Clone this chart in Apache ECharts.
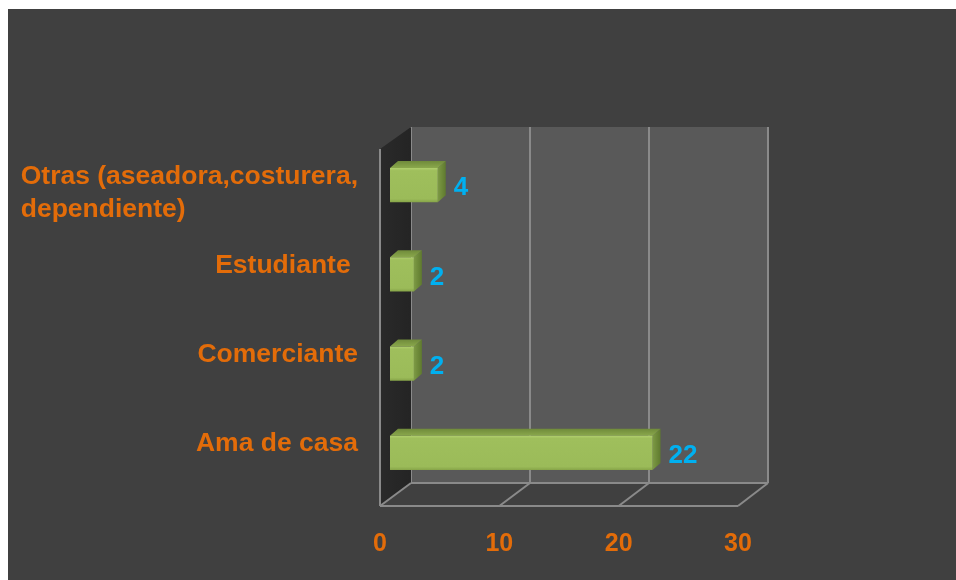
<!DOCTYPE html>
<html>
<head>
<meta charset="utf-8">
<script src="https://cdn.jsdelivr.net/npm/echarts@6/dist/echarts.min.js"></script>
<style>
  html, body { margin: 0; padding: 0; background: #ffffff; }
  #main { position: absolute; left: 8px; top: 9px; width: 948px; height: 571px; }
</style>
</head>
<body>
<div id="main"></div>
<script>
// datos (de abajo hacia arriba)
const categories = ['Ama de casa', 'Comerciante', 'Estudiante ', 'Otras (aseadora,costurera,\ndependiente)'];
const counts = [22, 2, 2, 4];
const axisMax = 30;
const axisStep = 10;

// plano frontal y pared del fondo (coordenadas del div)
const front = { left: 372, top: 140, width: 358, height: 357 };
const back = { left: 403, top: 118, width: 357, height: 356 };
const edge = '#8a8a8a';
const orange = '#e36c09';
const blue = '#00b0f0';

const chart = echarts.init(document.getElementById('main'));

const barData = counts.map((v, i) => [v, i]);

function renderBar(params, api) {
  const cat = api.value(1);
  const val = api.value(0);
  const p0 = api.coord([0, cat]);
  const p1 = api.coord([val, cat]);
  const band = api.size([0, 1])[1];
  const h = band * 0.385;
  const x0 = p0[0] + 10, x1 = p1[0] + 10;
  const yc = p0[1] - 8.5;
  const y0 = yc - h / 2, y1 = yc + h / 2;
  const dx = 8, dy = 7;
  return {
    type: 'group',
    children: [
      {
        type: 'polygon',
        shape: { points: [[x1, y0], [x1 + dx, y0 - dy], [x1 + dx, y1 - dy], [x1, y1]] },
        style: {
          fill: new echarts.graphic.LinearGradient(0, 0, 1, 0, [
            { offset: 0, color: '#7d9a45' }, { offset: 1, color: '#5f7a2e' }
          ])
        }
      },
      {
        type: 'polygon',
        shape: { points: [[x0, y0], [x0 + dx, y0 - dy], [x1 + dx, y0 - dy], [x1, y0]] },
        style: {
          fill: new echarts.graphic.LinearGradient(0, 0, 0, 1, [
            { offset: 0, color: '#6f8a3a' }, { offset: 1, color: '#8aa84c' }
          ])
        }
      },
      {
        type: 'rect',
        shape: { x: x0, y: y0, width: x1 - x0, height: h },
        style: {
          fill: new echarts.graphic.LinearGradient(0, 0, 0, 1, [
            { offset: 0, color: '#b2d06f' }, { offset: 0.08, color: '#9fbf5c' },
            { offset: 0.9, color: '#9bbb59' }, { offset: 1, color: '#86a448' }
          ]),
          shadowColor: 'rgba(0,0,0,0.45)', shadowBlur: 6, shadowOffsetX: -2, shadowOffsetY: 2
        }
      },
      {
        type: 'text',
        style: {
          x: x1 + dx + 8, y: yc + 3,
          text: String(val),
          fill: blue,
          font: 'bold 26px "Liberation Sans", Arial, sans-serif',
          verticalAlign: 'middle', align: 'left'
        }
      }
    ]
  };
}

function labelFormatter(value) {
  return value.split('\n').map(s => '{a|' + s + '}').join('\n');
}

chart.setOption({
  backgroundColor: '#404040',
  animation: false,
  grid: [
    Object.assign({}, front),
    Object.assign({ show: true, backgroundColor: '#595959', borderWidth: 0 }, back),
    { left: back.left, top: back.top - 11, width: back.width, height: back.height }
  ],
  xAxis: [
    {
      gridIndex: 0, type: 'value', min: 0, max: axisMax, interval: axisStep,
      axisLine: { show: false }, axisTick: { show: false }, splitLine: { show: false },
      axisLabel: {
        color: orange, fontSize: 25, fontWeight: 'bold',
        fontFamily: '"Liberation Sans", Arial, sans-serif', margin: 26
      }
    },
    {
      gridIndex: 1, type: 'value', min: 0, max: axisMax, interval: axisStep,
      axisLine: { show: false }, axisTick: { show: false }, axisLabel: { show: false },
      splitLine: { show: true, lineStyle: { color: edge, width: 2 } }
    },
    {
      gridIndex: 2, type: 'value', min: 0, max: axisMax, show: false
    }
  ],
  yAxis: [
    {
      gridIndex: 0, type: 'category', data: categories,
      axisLine: { show: false }, axisTick: { show: false }, axisLabel: { show: false }
    },
    {
      gridIndex: 1, type: 'category', data: categories,
      axisLine: { show: false }, axisTick: { show: false }, axisLabel: { show: false }
    },
    {
      gridIndex: 2, type: 'category', data: categories,
      axisLine: { show: false }, axisTick: { show: false },
      axisLabel: {
        margin: 53, align: 'right', verticalAlign: 'top',
        formatter: labelFormatter,
        rich: {
          a: {
            align: 'left', color: orange, fontSize: 26.5, fontWeight: 'bold', lineHeight: 33,
            fontFamily: '"Liberation Sans", Arial, sans-serif'
          }
        }
      }
    }
  ],
  series: [
    {
      type: 'custom',
      xAxisIndex: 0, yAxisIndex: 0,
      z: 10,
      data: barData,
      encode: { x: 0, y: 1 },
      renderItem: renderBar
    }
  ]
});

// paredes laterales y piso
const fx0 = front.left, fx1 = front.left + front.width;
const fy0 = front.top, fy1 = front.top + front.height;
const bx0 = back.left, bx1 = back.left + back.width;
const by0 = back.top, by1 = back.top + back.height;

const walls = [
  {
    type: 'polygon', z: 0,
    shape: { points: [[fx0, fy0], [bx0, by0], [bx0, by1], [fx0, fy1]] },
    style: {
      fill: new echarts.graphic.LinearGradient(0, 0, 1, 0, [
        { offset: 0, color: '#2a2a2a' }, { offset: 1, color: '#242424' }
      ])
    }
  },
  { type: 'line', z: 1, shape: { x1: fx0, y1: fy0, x2: fx0, y2: fy1 }, style: { stroke: edge, lineWidth: 2 } },
  { type: 'line', z: 1, shape: { x1: fx0, y1: fy1, x2: fx1, y2: fy1 }, style: { stroke: edge, lineWidth: 2 } },
  { type: 'line', z: 1, shape: { x1: bx0, y1: by1, x2: bx1, y2: by1 }, style: { stroke: edge, lineWidth: 2 } }
];
for (let t = 0; t <= axisMax; t += axisStep) {
  const xf = chart.convertToPixel({ xAxisIndex: 0 }, t);
  const xb = chart.convertToPixel({ xAxisIndex: 1 }, t);
  walls.push({ type: 'line', z: 1, shape: { x1: xf, y1: fy1, x2: xb, y2: by1 }, style: { stroke: edge, lineWidth: 2 } });
}
chart.setOption({ graphic: { elements: walls } });
</script>
</body>
</html>
